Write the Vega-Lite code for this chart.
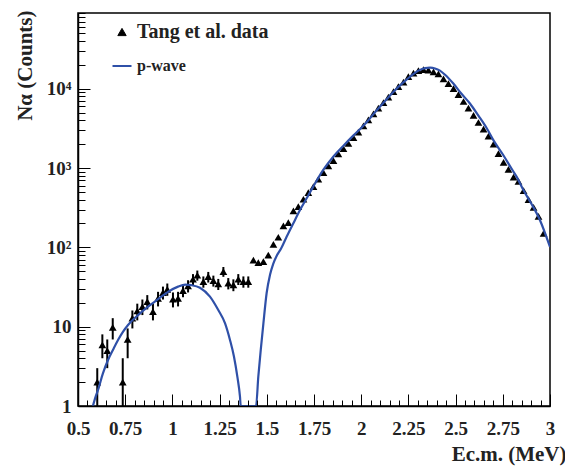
{
  "$schema": "https://vega.github.io/schema/vega-lite/v6.json",
  "width": 472,
  "height": 393,
  "autosize": {"type": "none"},
  "padding": {"left": 78, "top": 13, "right": 15, "bottom": 60},
  "background": "white",
  "config": {
    "view": {"stroke": "black", "strokeWidth": 1.5},
    "font": "Liberation Serif"
  },
  "datasets": {
    "errs": [
      {"x": 0.602, "lo": 1.0, "hi": 3.0},
      {"x": 0.629, "lo": 4.0, "hi": 8.0},
      {"x": 0.655, "lo": 3.0, "hi": 6.9},
      {"x": 0.684, "lo": 6.9, "hi": 12.8},
      {"x": 0.737, "lo": 1.0, "hi": 4.0},
      {"x": 0.763, "lo": 4.0, "hi": 9.5},
      {"x": 0.788, "lo": 9.5, "hi": 16},
      {"x": 0.814, "lo": 12, "hi": 19.5},
      {"x": 0.841, "lo": 14, "hi": 22},
      {"x": 0.867, "lo": 16.5, "hi": 25},
      {"x": 0.897, "lo": 12, "hi": 19.5},
      {"x": 0.924, "lo": 18, "hi": 27.5},
      {"x": 0.95, "lo": 22, "hi": 32},
      {"x": 0.973, "lo": 24.5, "hi": 35},
      {"x": 1.003, "lo": 17.5, "hi": 27},
      {"x": 1.03, "lo": 18, "hi": 27.5},
      {"x": 1.056, "lo": 23.5, "hi": 34},
      {"x": 1.083, "lo": 27, "hi": 38.5},
      {"x": 1.109, "lo": 33.5, "hi": 46},
      {"x": 1.132, "lo": 38, "hi": 51},
      {"x": 1.164, "lo": 31, "hi": 43},
      {"x": 1.19, "lo": 36, "hi": 49},
      {"x": 1.217, "lo": 32, "hi": 44},
      {"x": 1.243, "lo": 29, "hi": 40},
      {"x": 1.27, "lo": 42.5, "hi": 56.5},
      {"x": 1.296, "lo": 29.5, "hi": 41},
      {"x": 1.323, "lo": 28, "hi": 39.5},
      {"x": 1.349, "lo": 33.5, "hi": 46},
      {"x": 1.376, "lo": 31, "hi": 43},
      {"x": 1.402, "lo": 31, "hi": 43}
    ],
    "pts": [
      {"x": 0.602, "y": 2.0},
      {"x": 0.629, "y": 5.9},
      {"x": 0.655, "y": 5.0},
      {"x": 0.684, "y": 9.8},
      {"x": 0.737, "y": 2.0},
      {"x": 0.763, "y": 6.9},
      {"x": 0.788, "y": 12.8},
      {"x": 0.814, "y": 15.8},
      {"x": 0.841, "y": 17.9},
      {"x": 0.867, "y": 20.7},
      {"x": 0.897, "y": 15.5},
      {"x": 0.924, "y": 22.8},
      {"x": 0.95, "y": 26.8},
      {"x": 0.973, "y": 29.6},
      {"x": 1.003, "y": 22.2},
      {"x": 1.03, "y": 22.8},
      {"x": 1.056, "y": 28.5},
      {"x": 1.083, "y": 32.6},
      {"x": 1.109, "y": 39.6},
      {"x": 1.132, "y": 44.5},
      {"x": 1.164, "y": 37},
      {"x": 1.19, "y": 42.7},
      {"x": 1.217, "y": 38},
      {"x": 1.243, "y": 34.5},
      {"x": 1.27, "y": 49.4},
      {"x": 1.296, "y": 35.3},
      {"x": 1.323, "y": 33.6},
      {"x": 1.349, "y": 39.6},
      {"x": 1.376, "y": 37},
      {"x": 1.402, "y": 37},
      {"x": 1.429, "y": 69},
      {"x": 1.455, "y": 64},
      {"x": 1.482, "y": 66},
      {"x": 1.508, "y": 80},
      {"x": 1.535, "y": 109},
      {"x": 1.561, "y": 134},
      {"x": 1.588, "y": 186},
      {"x": 1.614, "y": 205},
      {"x": 1.641, "y": 288},
      {"x": 1.667, "y": 326},
      {"x": 1.694, "y": 404},
      {"x": 1.72, "y": 490},
      {"x": 1.747, "y": 582},
      {"x": 1.773, "y": 722},
      {"x": 1.8, "y": 875},
      {"x": 1.826, "y": 1063},
      {"x": 1.853, "y": 1240},
      {"x": 1.879, "y": 1506},
      {"x": 1.906, "y": 1760},
      {"x": 1.932, "y": 2040},
      {"x": 1.959, "y": 2410},
      {"x": 1.985, "y": 2840},
      {"x": 2.012, "y": 3397},
      {"x": 2.038, "y": 4045},
      {"x": 2.065, "y": 4808},
      {"x": 2.091, "y": 5675},
      {"x": 2.118, "y": 6680},
      {"x": 2.144, "y": 7814},
      {"x": 2.171, "y": 9190},
      {"x": 2.197, "y": 10640},
      {"x": 2.224, "y": 12080},
      {"x": 2.25, "y": 14200},
      {"x": 2.277, "y": 15700},
      {"x": 2.303, "y": 16900},
      {"x": 2.33, "y": 17400},
      {"x": 2.356, "y": 17100},
      {"x": 2.383, "y": 16300},
      {"x": 2.409, "y": 15400},
      {"x": 2.436, "y": 13300},
      {"x": 2.462, "y": 11600},
      {"x": 2.489, "y": 10000},
      {"x": 2.515, "y": 8400},
      {"x": 2.542, "y": 6900},
      {"x": 2.568, "y": 5700},
      {"x": 2.595, "y": 4600},
      {"x": 2.621, "y": 3750},
      {"x": 2.648, "y": 3100},
      {"x": 2.674, "y": 2520},
      {"x": 2.701, "y": 2000},
      {"x": 2.727, "y": 1520},
      {"x": 2.754, "y": 1180},
      {"x": 2.78, "y": 960},
      {"x": 2.807, "y": 770},
      {"x": 2.833, "y": 680},
      {"x": 2.86, "y": 520},
      {"x": 2.886, "y": 400},
      {"x": 2.913, "y": 320},
      {"x": 2.939, "y": 245},
      {"x": 2.966, "y": 150}
    ],
    "curve": [
      {"x": 0.579, "y": 1.0},
      {"x": 0.593, "y": 1.3},
      {"x": 0.606, "y": 1.59},
      {"x": 0.632, "y": 2.58},
      {"x": 0.659, "y": 3.8},
      {"x": 0.685, "y": 5.09},
      {"x": 0.712, "y": 6.8},
      {"x": 0.738, "y": 8.6},
      {"x": 0.765, "y": 10.5},
      {"x": 0.818, "y": 14.0},
      {"x": 0.871, "y": 17.9},
      {"x": 0.924, "y": 22.2},
      {"x": 0.977, "y": 27.5},
      {"x": 1.03, "y": 32},
      {"x": 1.068, "y": 33.9},
      {"x": 1.1, "y": 33.4},
      {"x": 1.146, "y": 31.0},
      {"x": 1.199, "y": 23.9},
      {"x": 1.243, "y": 16.2},
      {"x": 1.279, "y": 11.0},
      {"x": 1.305, "y": 6.8},
      {"x": 1.326, "y": 4.2},
      {"x": 1.344, "y": 2.34},
      {"x": 1.358, "y": 1.31},
      {"x": 1.362, "y": 1.0},
      {"x": 1.443, "y": 1.0},
      {"x": 1.455, "y": 2.34},
      {"x": 1.468, "y": 5.09},
      {"x": 1.482, "y": 11},
      {"x": 1.499, "y": 26.4},
      {"x": 1.517, "y": 45},
      {"x": 1.534, "y": 62},
      {"x": 1.552, "y": 78},
      {"x": 1.575, "y": 96},
      {"x": 1.605, "y": 136},
      {"x": 1.64, "y": 200},
      {"x": 1.676, "y": 295},
      {"x": 1.711, "y": 415},
      {"x": 1.746, "y": 582},
      {"x": 1.799, "y": 946},
      {"x": 1.852, "y": 1390},
      {"x": 1.905, "y": 1900},
      {"x": 1.958, "y": 2560},
      {"x": 2.0, "y": 3200},
      {"x": 2.038, "y": 4000},
      {"x": 2.064, "y": 4750},
      {"x": 2.117, "y": 6600},
      {"x": 2.17, "y": 9100},
      {"x": 2.223, "y": 12000},
      {"x": 2.276, "y": 15300},
      {"x": 2.303, "y": 16900},
      {"x": 2.338, "y": 18200},
      {"x": 2.365, "y": 18400},
      {"x": 2.391, "y": 18000},
      {"x": 2.417, "y": 16900},
      {"x": 2.444, "y": 15000},
      {"x": 2.488, "y": 11600},
      {"x": 2.53, "y": 8700},
      {"x": 2.576, "y": 6500},
      {"x": 2.62, "y": 4600},
      {"x": 2.665, "y": 3170},
      {"x": 2.7, "y": 2250},
      {"x": 2.753, "y": 1450},
      {"x": 2.8, "y": 950},
      {"x": 2.823, "y": 779},
      {"x": 2.859, "y": 528},
      {"x": 2.9, "y": 360},
      {"x": 2.947, "y": 220},
      {"x": 3.0, "y": 101}
    ]
  },
  "resolve": {"axis": {"x": "independent", "y": "independent"}},
  "layer": [
    {
      "data": {"name": "pts"},
      "mark": {"type": "point", "shape": "triangle-up", "filled": true, "size": 60, "opacity": 1, "clip": true},
      "encoding": {
        "x": {
          "field": "x", "type": "quantitative",
          "scale": {"domain": [0.5, 3], "nice": false, "zero": false},
          "axis": {
            "orient": "bottom", "zindex": 1, "ticks": true, "tickOpacity": 1,
            "values": [0.5, 0.75, 1, 1.25, 1.5, 1.75, 2, 2.25, 2.5, 2.75, 3],
            "labelExpr": "'' + datum.value",
            "grid": false,
            "tickSize": -12, "tickColor": "black", "tickWidth": 1,
            "domainColor": "black", "domainWidth": 1.5,
            "labelFont": "Liberation Serif", "labelFontWeight": "bold", "labelFontSize": 19, "labelColor": "#222",
            "labelPadding": 25, "labelFlush": false, "labelOverlap": false,
            "title": "Ec.m. (MeV)",
            "titleFont": "Liberation Serif", "titleFontWeight": "bold", "titleFontSize": 21, "titleColor": "#222",
            "titleAnchor": "end", "titleAlign": "right", "titleX": 488, "titleY": 54, "titleBaseline": "alphabetic"
          }
        },
        "y": {
          "field": "y", "type": "quantitative",
          "scale": {"type": "log", "domain": [1, 90000], "nice": false},
          "axis": {
            "orient": "left", "zindex": 1, "ticks": true, "tickOpacity": 1,
            "values": [1, 10, 100, 1000, 10000],
            "labelExpr": "datum.value == 1 ? '1' : datum.value == 10 ? '10' : datum.value == 100 ? '10²' : datum.value == 1000 ? '10³' : '10⁴'",
            "grid": false,
            "tickSize": -12, "tickColor": "black", "tickWidth": 1,
            "domainColor": "black", "domainWidth": 1.5,
            "labelFont": "Liberation Serif", "labelFontWeight": "bold", "labelFontSize": 19, "labelColor": "#222",
            "labelPadding": 19, "labelOverlap": false, "labelFlush": false,
            "title": "Nα (Counts)",
            "titleFont": "Liberation Serif", "titleFontWeight": "bold", "titleFontSize": 21, "titleColor": "#222",
            "titleAngle": -90, "titleAlign": "right", "titleBaseline": "middle", "titleX": -53, "titleY": -3
          }
        },
        "color": {
          "datum": "Tang et al. data",
          "type": "nominal",
          "scale": {"domain": ["Tang et al. data", "p-wave"], "range": ["black", "#2f50a8"]},
          "legend": {
            "orient": "none", "legendX": 34, "legendY": 9, "title": null, "padding": 0,
            "rowPadding": 14, "symbolSize": 100, "labelOffset": 5,
            "labelFont": "Liberation Serif", "labelFontWeight": "bold", "labelFontSize": 20, "labelColor": "#222",
            "encode": {
              "symbols": {"update": {
                "shape": {"signal": "datum.value === 'p-wave' ? 'stroke' : 'triangle-up'"},
                "size": {"signal": "datum.value === 'p-wave' ? 361 : 70"},
                "fill": {"signal": "datum.value === 'p-wave' ? 'transparent' : '#555'"},
                "stroke": {"signal": "datum.value === 'p-wave' ? '#2f50a8' : 'black'"},
                "strokeWidth": {"signal": "datum.value === 'p-wave' ? 2 : 1"},
                "opacity": {"value": 1}
              }},
              "labels": {"update": {
                "fontSize": {"signal": "datum.value === 'p-wave' ? 16 : 20"}
              }}
            }
          }
        }
      }
    },
    {
      "data": {"name": "errs"},
      "mark": {"type": "rule", "color": "black", "strokeWidth": 2, "clip": true},
      "encoding": {
        "x": {
          "field": "x", "type": "quantitative",
          "axis": {
            "orient": "top", "offset": -393, "zindex": 1, "ticks": true, "tickOpacity": 1,
            "values": [0.55,0.6,0.65,0.7,0.8,0.85,0.9,0.95,1.05,1.1,1.15,1.2,1.3,1.35,1.4,1.45,1.55,1.6,1.65,1.7,1.8,1.85,1.9,1.95,2.05,2.1,2.15,2.2,2.3,2.35,2.4,2.45,2.55,2.6,2.65,2.7,2.8,2.85,2.9,2.95],
            "labels": false, "domain": false, "grid": false, "title": "",
            "tickSize": 6, "tickColor": "black", "tickWidth": 1
          }
        },
        "y": {
          "field": "lo", "type": "quantitative",
          "axis": {
            "orient": "right", "offset": -472, "zindex": 1, "ticks": true, "tickOpacity": 1,
            "values": [2,3,4,5,6,7,8,9,20,30,40,50,60,70,80,90,200,300,400,500,600,700,800,900,2000,3000,4000,5000,6000,7000,8000,9000,20000,30000,40000,50000,60000,70000,80000,90000],
            "labels": false, "domain": false, "grid": false, "title": "",
            "tickSize": 7, "tickColor": "black", "tickWidth": 1
          }
        },
        "y2": {"field": "hi"}
      }
    },
    {
      "data": {"name": "curve"},
      "mark": {"type": "line", "strokeWidth": 2.2, "interpolate": "monotone", "clip": true},
      "encoding": {
        "x": {"field": "x", "type": "quantitative", "axis": null},
        "y": {"field": "y", "type": "quantitative", "axis": null},
        "color": {
          "datum": "p-wave",
          "type": "nominal",
          "legend": {
            "orient": "none", "legendX": 34, "legendY": 9, "title": null, "padding": 0,
            "rowPadding": 14, "symbolSize": 100, "labelOffset": 5,
            "labelFont": "Liberation Serif", "labelFontWeight": "bold", "labelFontSize": 20, "labelColor": "#222",
            "encode": {
              "symbols": {"update": {
                "shape": {"signal": "datum.value === 'p-wave' ? 'stroke' : 'triangle-up'"},
                "size": {"signal": "datum.value === 'p-wave' ? 361 : 70"},
                "fill": {"signal": "datum.value === 'p-wave' ? 'transparent' : '#555'"},
                "stroke": {"signal": "datum.value === 'p-wave' ? '#2f50a8' : 'black'"},
                "strokeWidth": {"signal": "datum.value === 'p-wave' ? 2 : 1"},
                "opacity": {"value": 1}
              }},
              "labels": {"update": {
                "fontSize": {"signal": "datum.value === 'p-wave' ? 16 : 20"}
              }}
            }
          }
        }
      }
    }
  ]
}
